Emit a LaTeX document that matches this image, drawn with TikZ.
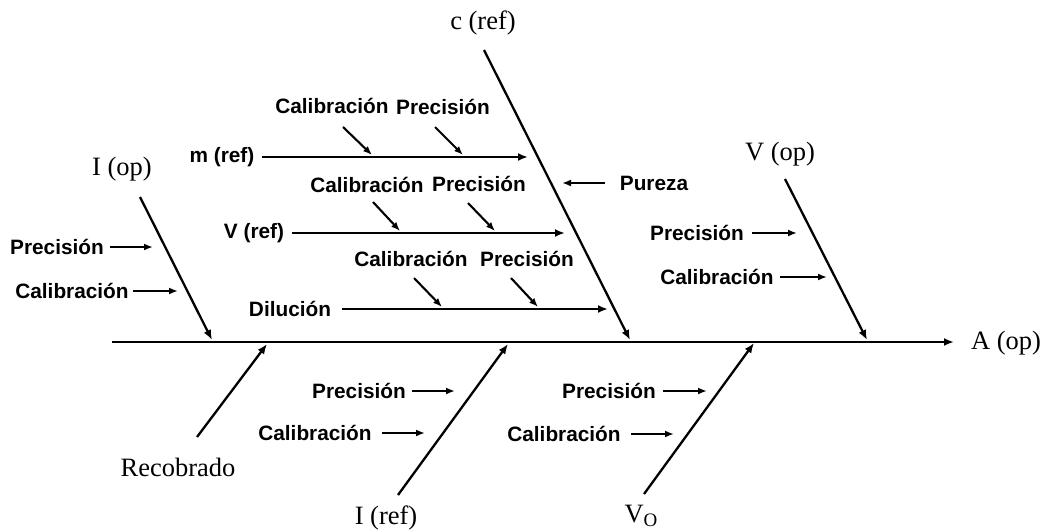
\documentclass[tikz,border=0pt]{standalone}
\usepackage{fontspec}
\setmainfont{Liberation Serif}
\newfontfamily\labfont{Liberation Sans}
\usetikzlibrary{arrows.meta}
\tikzset{
  bone/.style={line width=2.3pt, -{Latex[length=10pt,width=8pt]}},
  twig/.style={line width=2.1pt, -{Latex[length=9pt,width=7pt]}},
  cause/.style={font=\labfont\bfseries\fontsize{20.8}{21}\selectfont, inner sep=0pt},
  big/.style={font=\fontsize{26.5}{27}\selectfont, inner sep=0pt},
}
\begin{document}
\begin{tikzpicture}[x=1pt,y=-1pt]
\fill[white] (0,0) rectangle (1043,532);
\useasboundingbox (0,0) rectangle (1043,532);

% main labels
\node[big] (Iop) at (122,169) {I (op)};
\node[big] (cref) at (483,23) {c (ref)};
\node[big] (Vop) at (780,154) {V (op)};
\node[big] (Aop) at (1006,343) {A (op)};
\node[big] (Rec) at (178,467) {Recobrado};
\node[big] (Iref) at (386,518) {I (ref)};
\node[big, anchor=base] (Vo) at (641,522) {V\raisebox{-4pt}{\fontsize{19}{19}\selectfont O}};

% spine
\coordinate (S0) at (112,342);
\coordinate (S1) at (954,342);
\draw[bone] (S0) -- (S1);

% main bones
\coordinate (iopA) at (140,197); \coordinate (iopB) at (212,340);
\coordinate (crefA) at (484,50); \coordinate (crefB) at (630,340);
\coordinate (vopA) at (785,179); \coordinate (vopB) at (867,340);
\coordinate (recA) at (197,437); \coordinate (recB) at (267,344);
\coordinate (irefA) at (398,495); \coordinate (irefB) at (508,344);
\coordinate (voA) at (644,494); \coordinate (voB) at (754,343);
\draw[bone] (iopA) -- (iopB);
\draw[bone] (crefA) -- (crefB);
\draw[bone] (vopA) -- (vopB);
\draw[bone] (recA) -- (recB);
\draw[bone] (irefA) -- (irefB);
\draw[bone] (voA) -- (voB);

% sub-bones of c (ref)
\node[cause] (mref) at (222,157) {m (ref)};
\node[cause] (vref) at (254,233) {V (ref)};
\node[cause] (dil) at (290,309) {Dilución};
\coordinate (mA) at (262,157); \coordinate (mB) at (528,157);
\coordinate (vA) at (292,233); \coordinate (vB) at (565,233);
\coordinate (dA) at (342,309); \coordinate (dB) at (608,309);
\draw[bone] (mA) -- (mB);
\draw[bone] (vA) -- (vB);
\draw[bone] (dA) -- (dB);

\node[cause] (mc) at (332,106) {Calibración};
\node[cause] (mp) at (443,107) {Precisión};
\coordinate (mcA) at (343,127); \coordinate (mcB) at (372,155);
\coordinate (mpA) at (435,127); \coordinate (mpB) at (463,155);
\draw[twig] (mcA) -- (mcB);
\draw[twig] (mpA) -- (mpB);

\node[cause] (vc) at (367,185) {Calibración};
\node[cause] (vp) at (479,184) {Precisión};
\coordinate (vcA) at (373,202); \coordinate (vcB) at (400,231);
\coordinate (vpA) at (468,203); \coordinate (vpB) at (495,231);
\draw[twig] (vcA) -- (vcB);
\draw[twig] (vpA) -- (vpB);

\node[cause] (dc) at (411,259) {Calibración};
\node[cause] (dp) at (527,259) {Precisión};
\coordinate (dcA) at (414,278); \coordinate (dcB) at (442,307);
\coordinate (dpA) at (511,278); \coordinate (dpB) at (538,307);
\draw[twig] (dcA) -- (dcB);
\draw[twig] (dpA) -- (dpB);

\node[cause] (pur) at (654,183) {Pureza};
\coordinate (purA) at (605,183); \coordinate (purB) at (562,183);
\draw[twig] (purA) -- (purB);

% I (op)
\node[cause] (iopP) at (57,247) {Precisión};
\node[cause] (iopC) at (72,291) {Calibración};
\coordinate (iopPA) at (110,247); \coordinate (iopPB) at (153,247);
\coordinate (iopCA) at (133,291); \coordinate (iopCB) at (178,291);
\draw[twig] (iopPA) -- (iopPB);
\draw[twig] (iopCA) -- (iopCB);

% V (op)
\node[cause] (vopP) at (697,233) {Precisión};
\node[cause] (vopC) at (717,277) {Calibración};
\coordinate (vopPA) at (752,233); \coordinate (vopPB) at (797,233);
\coordinate (vopCA) at (780,277); \coordinate (vopCB) at (827,277);
\draw[twig] (vopPA) -- (vopPB);
\draw[twig] (vopCA) -- (vopCB);

% I (ref)
\node[cause] (irefP) at (359,391) {Precisión};
\node[cause] (irefC) at (315,433) {Calibración};
\coordinate (irefPA) at (412,391); \coordinate (irefPB) at (455,391);
\coordinate (irefCA) at (382,433); \coordinate (irefCB) at (425,433);
\draw[twig] (irefPA) -- (irefPB);
\draw[twig] (irefCA) -- (irefCB);

% V0
\node[cause] (voP) at (609,391) {Precisión};
\node[cause] (voC) at (564,434) {Calibración};
\coordinate (voPA) at (663,391); \coordinate (voPB) at (707,391);
\coordinate (voCA) at (631,434); \coordinate (voCB) at (674,434);
\draw[twig] (voPA) -- (voPB);
\draw[twig] (voCA) -- (voCB);
\end{tikzpicture}
\end{document}
